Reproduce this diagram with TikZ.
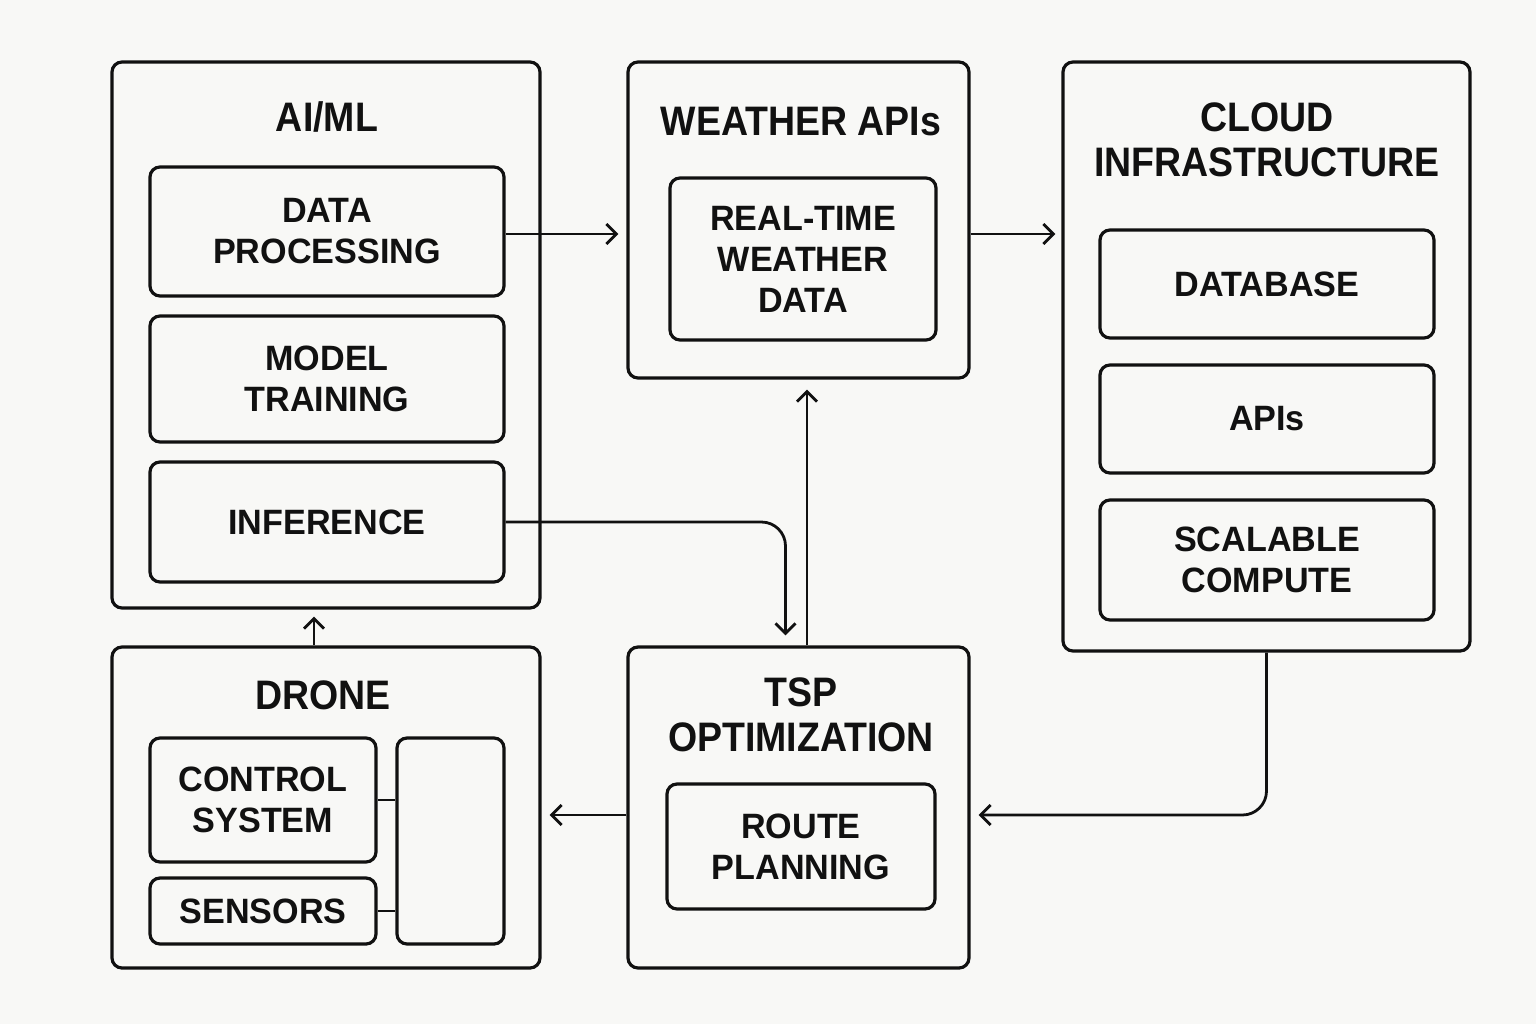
\documentclass[tikz,border=0pt]{standalone}
\usepackage{fontspec}
\setmainfont{Liberation Sans}[FakeStretch=0.97]
\newfontfamily\ttlfont{Liberation Sans}[FakeStretch=0.91]
\usetikzlibrary{arrows.meta,calc}
\definecolor{bg}{HTML}{F8F8F6}
\definecolor{ink}{HTML}{111111}
\begin{document}
\begin{tikzpicture}[x=0.5pt,y=-0.5pt,
  box/.style={draw=ink, line width=1.6pt, rounded corners=5pt, inner sep=0pt, align=center, text=ink,
     font=\bfseries\fontsize{17.6}{20.5}\selectfont},
  ttl/.style={align=center, text=ink, inner sep=0pt, font=\ttlfont\bfseries\fontsize{20.6}{22.5}\selectfont},
  conn/.style={draw=ink, line width=1.4pt},
  arr/.style={conn, -{Straight Barb[length=5pt,width=10pt,line width=1.4pt]}}]
\fill[bg] (0,0) rectangle (1536,1024);
\useasboundingbox (0,0) rectangle (1536,1024);

% outer boxes
\node[box, minimum width=214pt, minimum height=273pt] (aiml) at (326,335) {};
\node[box, minimum width=170.5pt, minimum height=158pt] (weather) at (798.5,220) {};
\node[box, minimum width=203.5pt, minimum height=294.5pt] (cloud) at (1266.5,356.5) {};
\node[box, minimum width=214pt, minimum height=160.5pt] (drone) at (326,807.5) {};
\node[box, minimum width=170.5pt, minimum height=160.5pt] (tsp) at (798.5,807.5) {};

% titles
\node[ttl] (taiml) at (327,117) {AI/ML};
\node[ttl] (tweather) at (801,122) {WEATHER APIs};
\node[ttl] (tcloud) at (1267,140) {CLOUD\\INFRASTRUCTURE};
\node[ttl] (tdrone) at (323,695) {DRONE};
\node[ttl] (ttsp) at (801,715) {TSP\\OPTIMIZATION};

% inner boxes
\node[box, minimum width=177pt, minimum height=64.5pt] (dp) at (327,231.5) {DATA\\PROCESSING};
\node[box, minimum width=177pt, minimum height=63pt] (mt) at (327,379) {MODEL\\TRAINING};
\node[box, minimum width=177pt, minimum height=60pt] (inf) at (327,522) {INFERENCE};
\node[box, minimum width=133pt, minimum height=81pt] (rt) at (803,259) {REAL-TIME\\WEATHER\\DATA};
\node[box, minimum width=167pt, minimum height=54pt] (db) at (1267,284) {DATABASE};
\node[box, minimum width=167pt, minimum height=54pt] (apis) at (1267,419) {APIs};
\node[box, minimum width=167pt, minimum height=60pt] (sc) at (1267,560) {SCALABLE\\COMPUTE};
\node[box, minimum width=113pt, minimum height=62pt] (cs) at (263,800) {CONTROL\\SYSTEM};
\node[box, minimum width=113pt, minimum height=33pt] (sens) at (263,911) {SENSORS};
\node[box, minimum width=53.5pt, minimum height=103pt] (emp) at (450.5,841) {};
\node[box, minimum width=134pt, minimum height=62.5pt] (rp) at (801,846.5) {ROUTE\\PLANNING};

% connectors
\coordinate (dpout) at ($(dp.east)+(0,2.5)$);
\draw[arr, shorten >=4pt] (dpout) -- (dpout -| weather.west);
\draw[arr, shorten >=3pt] (weather.east |- dpout) -- (cloud.west |- dpout);
\draw[arr, rounded corners=12pt, shorten >=5pt] (inf.east) -| ($(tsp.north)+(-13,0)$);
\draw[arr, shorten >=5pt] ($(tsp.north)+(8.5,0)$) -- ($(weather.south)+(8.5,0)$);
\draw[arr, shorten >=3.5pt] ($(drone.north)+(-12,0)$) -- ($(aiml.south)+(-12,0)$);
\draw[arr, shorten >=4pt] ($(tsp.west)+(0,7.5)$) -- ($(drone.east)+(0,7.5)$);
\draw[arr, rounded corners=12pt, shorten >=4pt] (cloud.south) |- ($(tsp.east)+(0,7.5)$);
\draw[conn] (cs.east) -- (cs.east -| emp.west);
\draw[conn] (sens.east) -- (sens.east -| emp.west);
\end{tikzpicture}
\end{document}
